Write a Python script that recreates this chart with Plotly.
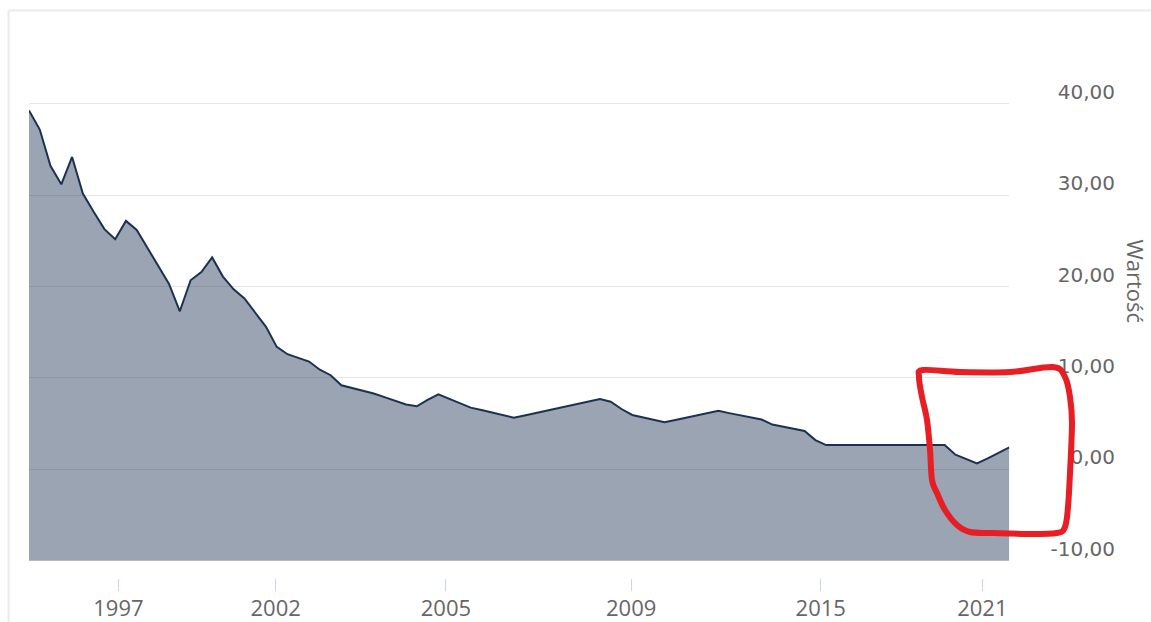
import plotly.graph_objects as go

# ---------------- data ----------------
values = [39.3, 37.2, 33.2, 31.2, 34.2, 30.2, 28.2, 26.3, 25.2, 27.2,
          26.2, 24.2, 22.3, 20.3, 17.3, 20.7, 21.6, 23.2, 21.1, 19.7,
          18.7, 17.2, 15.6, 13.4, 12.6, 12.2, 11.8, 10.9, 10.3, 9.2,
          8.9, 8.6, 8.3, 7.9, 7.5, 7.1, 6.9, 7.6, 8.2, 7.7,
          7.2, 6.75, 6.5, 6.2, 5.95, 5.65, 5.9, 6.15, 6.4, 6.65,
          6.9, 7.15, 7.4, 7.7, 7.4, 6.6, 5.95, 5.7, 5.4, 5.15,
          5.4, 5.65, 5.9, 6.15, 6.4, 6.15, 5.9, 5.7, 5.45, 4.9,
          4.65, 4.4, 4.2, 3.2, 2.65,
          2.65, 2.65, 2.65, 2.65, 2.65, 2.65, 2.65, 2.65, 2.65, 2.65, 2.65,
          1.6, 1.1, 0.65, 1.2, 1.8, 2.4]
obs = list(range(len(values)))

x_tick_pos = [8.3, 22.9, 38.7, 55.9, 73.5, 88.5]
x_tick_labels = ["1997", "2002", "2005", "2009", "2015", "2021"]
y_tick_vals = [-10, 0, 10, 20, 30, 40]
y_tick_labels = ["-10,00", "0,00", "10,00", "20,00", "30,00", "40,00"]
y_title = "Wartość"
Y_MIN, Y_MAX = -10, 40

# ---------------- geometry ----------------
# the page body margin is removed (post_script), so page px == figure px
FIG_W, FIG_H = 1151, 622
PLOT_L, PLOT_T, PLOT_B = 29, 100, 578   # page pixels of the paper area
M_L, M_T, M_R = PLOT_L, PLOT_T, 0
M_B = FIG_H - PLOT_B
PW = FIG_W - M_L - M_R
PH = FIG_H - M_T - M_B


def px_x(px):
    return (px - PLOT_L) / PW


def px_y(py):
    return (PLOT_B - py) / PH


GRID_TOP, GRID_BOT = 104.0, 560.6        # page pixels of 40 and -10
PAD = 0.25                               # keep edge grid lines inside range
px_per_unit = (GRID_BOT - GRID_TOP) / (Y_MAX - Y_MIN)
d = PAD * px_per_unit

fig = go.Figure()
fig.add_trace(go.Scatter(x=obs, y=[Y_MIN] * len(obs), mode="lines",
                         line=dict(width=0, color="rgba(0,0,0,0)"),
                         hoverinfo="skip", showlegend=False))
fig.add_trace(go.Scatter(x=obs, y=values, mode="lines", fill="tonexty",
                         fillcolor="rgba(25,48,80,0.44)",
                         line=dict(color="#1c3152", width=2),
                         name=y_title, showlegend=False))

# light frame of the widget (top and left edges)
fig.add_shape(type="line", xref="paper", yref="paper",
              x0=px_x(8.5), x1=px_x(1160), y0=px_y(10.5), y1=px_y(10.5),
              line=dict(color="#ebebeb", width=2), layer="below")
fig.add_shape(type="line", xref="paper", yref="paper",
              x0=px_x(8.5), x1=px_x(8.5), y0=px_y(10.5), y1=px_y(640),
              line=dict(color="#ebebeb", width=2), layer="below")

# red hand-drawn loop
loop_px = [(923, 370), (960, 372), (1010, 372), (1053, 367), (1065, 377),
           (1070, 397), (1072, 423), (1070, 473), (1068, 507), (1065, 527),
           (1057, 533), (1027, 534), (993, 533), (970, 532), (957, 525),
           (945, 510), (937, 493), (932, 480), (930, 450), (927, 420),
           (922, 397), (919, 377)]
pts = [(px_x(a), px_y(b)) for a, b in loop_px]
n = len(pts)
path = "M {:.5f},{:.5f}".format(*pts[0])
for i in range(n):
    p0 = pts[(i - 1) % n]
    p1 = pts[i]
    p2 = pts[(i + 1) % n]
    p3 = pts[(i + 2) % n]
    c1 = (p1[0] + (p2[0] - p0[0]) / 6, p1[1] + (p2[1] - p0[1]) / 6)
    c2 = (p2[0] - (p3[0] - p1[0]) / 6, p2[1] - (p3[1] - p1[1]) / 6)
    path += " C {:.5f},{:.5f} {:.5f},{:.5f} {:.5f},{:.5f}".format(*c1, *c2, *p2)
path += " Z"
fig.add_shape(type="path", xref="paper", yref="paper", path=path,
              line=dict(color="#e81e25", width=6), layer="above")

fig.add_annotation(text=y_title, textangle=90, xref="paper", yref="paper",
                   x=px_x(1135.5), y=px_y(281), xanchor="center", yanchor="middle",
                   showarrow=False,
                   font=dict(family="Open Sans", size=22, color="#666666"))

fig.update_layout(
    width=FIG_W, height=FIG_H,
    margin=dict(l=M_L, r=M_R, t=M_T, b=M_B, pad=0, autoexpand=False),
    paper_bgcolor="white", plot_bgcolor="white", showlegend=False,
    xaxis=dict(domain=[0, px_x(1009.3)], range=[0, len(values) - 1],
               anchor="free", position=0,
               tickmode="array", tickvals=x_tick_pos, ticktext=x_tick_labels,
               ticks="outside", ticklen=12, tickcolor="#ccd6eb", tickwidth=1,
               showgrid=False, zeroline=False, showline=False,
               ticklabelstandoff=-1,
               tickfont=dict(family="Open Sans", size=22, color="#666666")),
    yaxis=dict(domain=[px_y(GRID_BOT + d), px_y(GRID_TOP - d)],
               range=[Y_MIN - PAD, Y_MAX + PAD],
               side="left", anchor="free", position=px_x(1115),
               tickmode="array", tickvals=y_tick_vals, ticktext=y_tick_labels,
               showgrid=True, gridcolor="#e6e6e6", gridwidth=1,
               zeroline=False, showline=False, ticks="",
               ticklabelshift=-12,
               tickfont=dict(family="DejaVu Sans", size=20, color="#666666")),
)

fig.write_html("out.html", config={"displayModeBar": False},
               post_script="document.body.style.margin='0';"
                           "document.body.style.padding='0';"
                           "document.documentElement.style.overflow='hidden';")
